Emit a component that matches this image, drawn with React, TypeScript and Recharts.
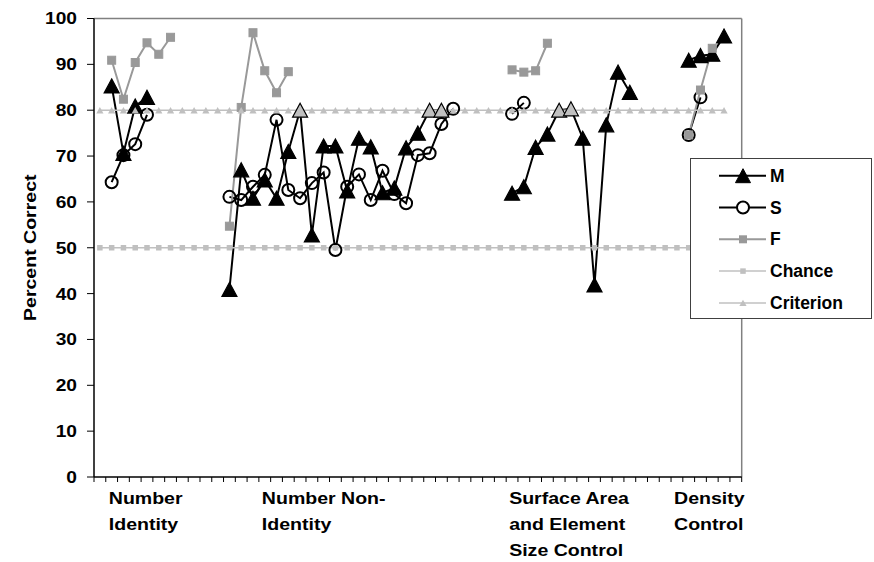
import React from 'react';
import { LineChart, Line, XAxis, YAxis, ReferenceLine, Legend } from 'recharts';

if (typeof document !== 'undefined') {
  document.body.style.margin = '0';
  document.body.style.overflow = 'hidden';
}

const FONT = '"Liberation Sans", Arial, Helvetica, sans-serif';

const categoryIndex = [
  0, 1, 2, 3, 4, 5, 6, 7, 8, 9, 10, 11, 12, 13, 14, 15, 16, 17, 18, 19, 20, 21, 22, 23, 24, 25, 26, 27,
  28, 29, 30, 31, 32, 33, 34, 35, 36, 37, 38, 39, 40, 41, 42, 43, 44, 45, 46, 47, 48, 49, 50, 51, 52, 53, 54,
];

const mValues = [
  null, 85.3, 70.6, 80.9, 82.8, null, null, null, null, null, null,
  40.9, 67, 60.8, 64.8, 60.8, 71, 80, 52.8, 72.2, 72.2, 62.4, 73.9, 72, 62, 63, 71.8, 75, 80, 80,
  null, null, null, null, null,
  61.9, 63.3, 71.9, 74.8, 80, 80.3, 73.9, 41.9, 76.8, 88.3, 83.9,
  null, null, null, null,
  90.9, 91.9, 92.2, 96.2, null,
];

const sValues = [
  null, 64.3, 70.2, 72.6, 79, null, null, null, null, null, null,
  61.1, 60.4, 63.3, 65.9, 77.9, 62.6, 60.8, 64.1, 66.4, 49.5, 63.3, 66, 60.4, 66.8, 61.7, 59.7, 70.2, 70.6, 77, 80.3,
  null, null, null, null,
  79.2, 81.6, null, null, null, null, null, null, null, null, null, null, null, null, null,
  74.6, 82.8, null, null, null,
];

const fValues = [
  null, 90.9, 82.4, 90.4, 94.7, 92.2, 95.9, null, null, null, null,
  54.7, 80.6, 96.9, 88.6, 83.8, 88.4, null, null, null, null, null, null, null, null, null, null, null, null, null,
  null, null, null, null, null,
  88.8, 88.3, 88.6, 94.6, null, null, null, null, null, null, null,
  null, null, null, null,
  74.6, 84.4, 93.5, null, null,
];

const chanceValues = [
  50, 50, 50, 50, 50, 50, 50, 50, 50, 50, 50, 50, 50, 50, 50, 50, 50, 50, 50, 50, 50, 50, 50, 50, 50, 50, 50,
  50, 50, 50, 50, 50, 50, 50, 50, 50, 50, 50, 50, 50, 50, 50, 50, 50, 50, 50, 50, 50, 50, 50, 50, 50, 50, 50, null,
];

const criterionValues = [
  80, 80, 80, 80, 80, 80, 80, 80, 80, 80, 80, 80, 80, 80, 80, 80, 80, 80, 80, 80, 80, 80, 80, 80, 80, 80, 80,
  80, 80, 80, 80, 80, 80, 80, 80, 80, 80, 80, 80, 80, 80, 80, 80, 80, 80, 80, 80, 80, 80, 80, 80, 80, 80, 80, null,
];

const yTicks = [0, 10, 20, 30, 40, 50, 60, 70, 80, 90, 100];
const xTicks = [...categoryIndex, 55];

const xLabelLines = [
  ['Number', 'Identity'],
  ['Number Non-', 'Identity'],
  ['Surface Area', 'and Element', 'Size Control'],
  ['Density', 'Control'],
];
const xLabelAt = [1, 14, 35, 49];

const legendNames = ['M', 'S', 'F', 'Chance', 'Criterion'];

const data = categoryIndex.map((c, i) => ({
  x: c + 0.5,
  M: mValues[i],
  S: sValues[i],
  F: fValues[i],
  Chance: chanceValues[i],
  Criterion: criterionValues[i],
}));

const BLACK = '#000000';
const FGRAY = '#999999';
const LGRAY = '#c0c0c0';

const tri = (cx: number, cy: number, hw: number, hh: number) =>
  `${cx},${cy - hh} ${cx + hw},${cy + hh} ${cx - hw},${cy + hh}`;

const valid = (p: any) => p && p.cx != null && p.cy != null && p.value != null && !Number.isNaN(p.cx) && !Number.isNaN(p.cy);

const mDot = (p: any) => {
  if (!valid(p)) return <g key={p?.key ?? Math.random()} />;
  const v = Array.isArray(p.value) ? p.value[1] : p.value;
  const fill = Math.abs(v - 80) < 0.5 ? LGRAY : BLACK;
  return <polygon key={p.key} points={tri(p.cx, p.cy, 7.5, 7)} fill={fill} stroke={BLACK} strokeWidth={1.2} />;
};
const sDot = (p: any) => {
  if (!valid(p)) return <g key={p?.key ?? Math.random()} />;
  return <circle key={p.key} cx={p.cx} cy={p.cy} r={6} fill="none" stroke={BLACK} strokeWidth={2} />;
};
const fDot = (p: any) => {
  if (!valid(p)) return <g key={p?.key ?? Math.random()} />;
  return <rect key={p.key} x={p.cx - 4} y={p.cy - 4} width={8} height={8} fill={FGRAY} stroke={FGRAY} />;
};
const chanceDot = (p: any) => {
  if (!valid(p)) return <g key={p?.key ?? Math.random()} />;
  return <rect key={p.key} x={p.cx - 2.75} y={p.cy - 2.75} width={5.5} height={5.5} fill={LGRAY} />;
};
const criterionDot = (p: any) => {
  if (!valid(p)) return <g key={p?.key ?? Math.random()} />;
  return <polygon key={p.key} points={tri(p.cx, p.cy, 3.6, 3.2)} fill={LGRAY} />;
};

const YTick = (props: any) => {
  const { x, y, payload } = props;
  return (
    <text
      transform={`translate(${x},${y}) scale(1.13,1)`}
      x={0}
      y={0}
      dy="0.35em"
      textAnchor="end"
      fontFamily={FONT}
      fontSize={17}
      fontWeight="bold"
      fill={BLACK}
    >
      {payload.value}
    </text>
  );
};

const XTick = (props: any) => {
  const { x, y, payload } = props;
  const k = xLabelAt.indexOf(payload.value);
  if (k < 0) return <g />;
  return (
    <text
      transform={`translate(${x + 3},${y}) scale(1.15,1)`}
      textAnchor="start"
      fontFamily={FONT}
      fontSize={17}
      fontWeight="bold"
      fill={BLACK}
    >
      {xLabelLines[k].map((line, j) => (
        <tspan key={j} x={0} y={20 + j * 25.8}>
          {line}
        </tspan>
      ))}
    </text>
  );
};

const YLabel = (props: any) => {
  const vb = props && props.viewBox;
  const cy = vb && vb.height ? vb.y + vb.height / 2 : 248;
  const cx = 30;
  return (
    <text
      transform={`translate(${cx},${cy}) rotate(-90) scale(1.15,1)`}
      x={0}
      y={0}
      dy="0.35em"
      textAnchor="middle"
      fontFamily={FONT}
      fontSize={17}
      fontWeight="bold"
      fill={BLACK}
    >
      Percent Correct
    </text>
  );
};

const legendSample = (name: string, cx: number, cy: number) => {
  switch (name) {
    case 'M':
      return <polygon points={tri(cx, cy, 7.5, 7)} fill={BLACK} stroke={BLACK} />;
    case 'S':
      return <circle cx={cx} cy={cy} r={6} fill="#fff" stroke={BLACK} strokeWidth={2} />;
    case 'F':
      return <rect x={cx - 4} y={cy - 4} width={8} height={8} fill={FGRAY} />;
    case 'Chance':
      return <rect x={cx - 2.75} y={cy - 2.75} width={5.5} height={5.5} fill={LGRAY} />;
    default:
      return <polygon points={tri(cx, cy, 3.6, 3.2)} fill={LGRAY} />;
  }
};

const legendStroke: Record<string, string> = { M: BLACK, S: BLACK, F: FGRAY, Chance: LGRAY, Criterion: LGRAY };

const renderLegend = () => (
  <svg width={182} height={161} style={{ display: 'block' }}>
    <rect x={0.5} y={0.5} width={181} height={160} fill="#fff" stroke="#404040" strokeWidth={1} />
    {legendNames.map((name, i) => {
      const cy = 17.7 + 31.8 * i;
      return (
        <g key={name}>
          <line x1={29} x2={76} y1={cy} y2={cy} stroke={legendStroke[name]} strokeWidth={name === 'Chance' || name === 'Criterion' ? 1.5 : 2} />
          {legendSample(name, 53, cy)}
          <text x={80} y={cy} dy="0.35em" fontFamily={FONT} fontSize={17.5} fontWeight="bold" fill={BLACK}>
            {name}
          </text>
        </g>
      );
    })}
  </svg>
);

export default function App() {
  return (
    <div style={{ width: 874, height: 562, background: '#fff' }}>
      <LineChart width={874} height={562} data={data} margin={{ top: 18.5, right: 132.3, left: 0, bottom: 0 }}>
        <XAxis
          dataKey="x"
          type="number"
          domain={[0, 55]}
          ticks={xTicks}
          interval={0}
          tick={(p: any) => <XTick {...p} />}
          tickSize={5}
          height={85}
          axisLine={{ stroke: BLACK, strokeWidth: 1.5 }}
          tickLine={{ stroke: BLACK, strokeWidth: 1 }}
          allowDataOverflow
        />
        <YAxis
          type="number"
          domain={[0, 100]}
          ticks={yTicks}
          interval={0}
          width={94}
          tickSize={7}
          tickMargin={10}
          tick={(p: any) => <YTick {...p} />}
          axisLine={{ stroke: BLACK, strokeWidth: 1.5 }}
          tickLine={{ stroke: BLACK, strokeWidth: 1 }}
          label={<YLabel />}
          allowDataOverflow
        />
        <ReferenceLine y={100} stroke="#808080" strokeWidth={1.5} />
        <ReferenceLine x={55} stroke="#808080" strokeWidth={1.5} />
        <Line dataKey="M" type="linear" stroke={BLACK} strokeWidth={2} dot={mDot} activeDot={false} isAnimationActive={false} />
        <Line dataKey="S" type="linear" stroke={BLACK} strokeWidth={2} dot={sDot} activeDot={false} isAnimationActive={false} />
        <Line dataKey="F" type="linear" stroke={FGRAY} strokeWidth={2} dot={fDot} activeDot={false} isAnimationActive={false} />
        <Line dataKey="Chance" type="linear" stroke={LGRAY} strokeWidth={1.5} dot={chanceDot} activeDot={false} isAnimationActive={false} />
        <Line dataKey="Criterion" type="linear" stroke={LGRAY} strokeWidth={1.5} dot={criterionDot} activeDot={false} isAnimationActive={false} />
        <Legend
          layout="vertical"
          align="center"
          verticalAlign="middle"
          content={renderLegend}
          wrapperStyle={{ left: 690, top: 158, width: 182, height: 161 }}
        />
      </LineChart>
    </div>
  );
}
